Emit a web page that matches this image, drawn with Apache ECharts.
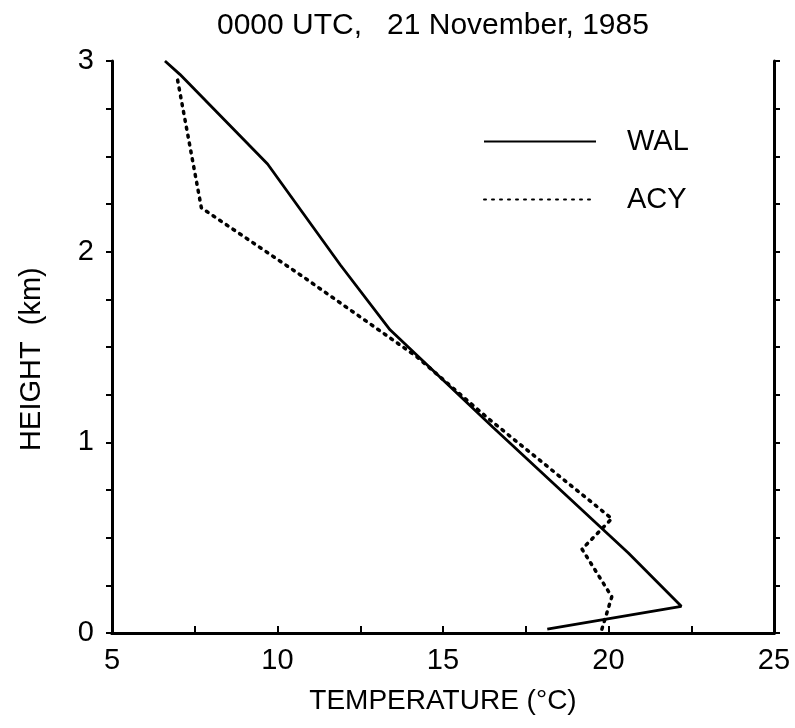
<!DOCTYPE html>
<html>
<head>
<meta charset="utf-8">
<script src="https://cdn.jsdelivr.net/npm/echarts@6/dist/echarts.min.js"></script>
<style>
  html, body { margin: 0; padding: 0; background: #fff; }
  #chart { width: 795px; height: 728px; }
</style>
</head>
<body>
<div id="chart"></div>
<script>
// temperature (°C) vs height (km)
const walTemp   = [18.15, 22.2, 20.6, 16.5, 13.4, 11.9, 9.7, 7.05, 6.6]
const walHeight = [0.02, 0.14, 0.42, 1.08, 1.59, 1.93, 2.46, 2.93, 3.0]
const acyTemp   = [19.8, 20.1, 19.2, 20.1, 16.4, 14.2, 10.76, 7.7, 6.95]
const acyHeight = [0.02, 0.19, 0.44, 0.60, 1.12, 1.45, 1.87, 2.23, 2.93]
const xTicks = [5, 10, 15, 20, 25]
const yTicks = [0, 1, 2, 3]

const pairs = (xs, ys) => xs.map((x, i) => [x, ys[i]])
const font = 'Liberation Sans, Arial, sans-serif'

let myChart = echarts.init(document.getElementById('chart'))
myChart.setOption({
    animation: false,
    backgroundColor: '#fff',
    title: {
        text: '0000 UTC,   21 November, 1985',
        left: 212, top: 6,
        textStyle: { fontFamily: font, fontSize: 30, fontWeight: 'normal', color: '#000' }
    },
    legend: {
        orient: 'vertical',
        left: 483, top: 127, padding: 0,
        itemWidth: 112, itemHeight: 16, itemGap: 29,
        itemStyle: { opacity: 0 },
        textStyle: { fontFamily: font, fontSize: 29, color: '#000', padding: [0, 0, 0, 26] },
        data: ['WAL', 'ACY']
    },
    grid: { left: 112, right: 21, top: 61, bottom: 95 },
    xAxis: [{
        type: 'value', min: 5, max: 25, interval: 2.5,
        name: 'TEMPERATURE (°C)', nameLocation: 'middle', nameGap: 54,
        nameTextStyle: { fontFamily: font, fontSize: 28, color: '#000' },
        axisLine: { lineStyle: { color: '#000', width: 3 } },
        axisTick: { inside: true, length: 7, lineStyle: { color: '#000', width: 2 } },
        axisLabel: {
            fontFamily: font, fontSize: 29, color: '#000', margin: 13,
            formatter: v => xTicks.includes(v) ? String(v) : ''
        },
        splitLine: { show: false }
    }, {
        type: 'value', position: 'top', min: 5, max: 25,
        axisLine: { lineStyle: { color: '#000', width: 3 } },
        axisTick: { show: false }, axisLabel: { show: false }, splitLine: { show: false }
    }],
    yAxis: [{
        type: 'value', min: 0, max: 3, interval: 0.25,
        name: 'HEIGHT  (km)   ', nameLocation: 'middle', nameGap: 66, nameRotate: 90,
        nameTextStyle: { fontFamily: font, fontSize: 29, color: '#000' },
        axisLine: { show: true, lineStyle: { color: '#000', width: 3 } },
        axisTick: { show: true, length: 6, lineStyle: { color: '#000', width: 2 } },
        axisLabel: {
            fontFamily: font, fontSize: 29, color: '#000', margin: 18,
            formatter: v => yTicks.includes(v) ? String(v) : ''
        },
        splitLine: { show: false }
    }, {
        type: 'value', position: 'right', min: 0, max: 3, interval: 0.25,
        axisLine: { show: true, lineStyle: { color: '#000', width: 3 } },
        axisTick: { show: true, length: 6, lineStyle: { color: '#000', width: 2 } },
        axisLabel: { show: false }, splitLine: { show: false }
    }],
    series: [{
        name: 'WAL', type: 'line', symbol: 'none',
        data: pairs(walTemp, walHeight),
        lineStyle: { color: '#000', width: 2.8 },
        itemStyle: { color: '#000' }
    }, {
        name: 'ACY', type: 'line', symbol: 'none',
        data: pairs(acyTemp, acyHeight),
        lineStyle: { color: '#000', width: 3.5, type: [2, 6], cap: 'round' },
        itemStyle: { color: '#000' }
    }]
})
window.addEventListener('resize', () => myChart.resize())
</script>
</body>
</html>
